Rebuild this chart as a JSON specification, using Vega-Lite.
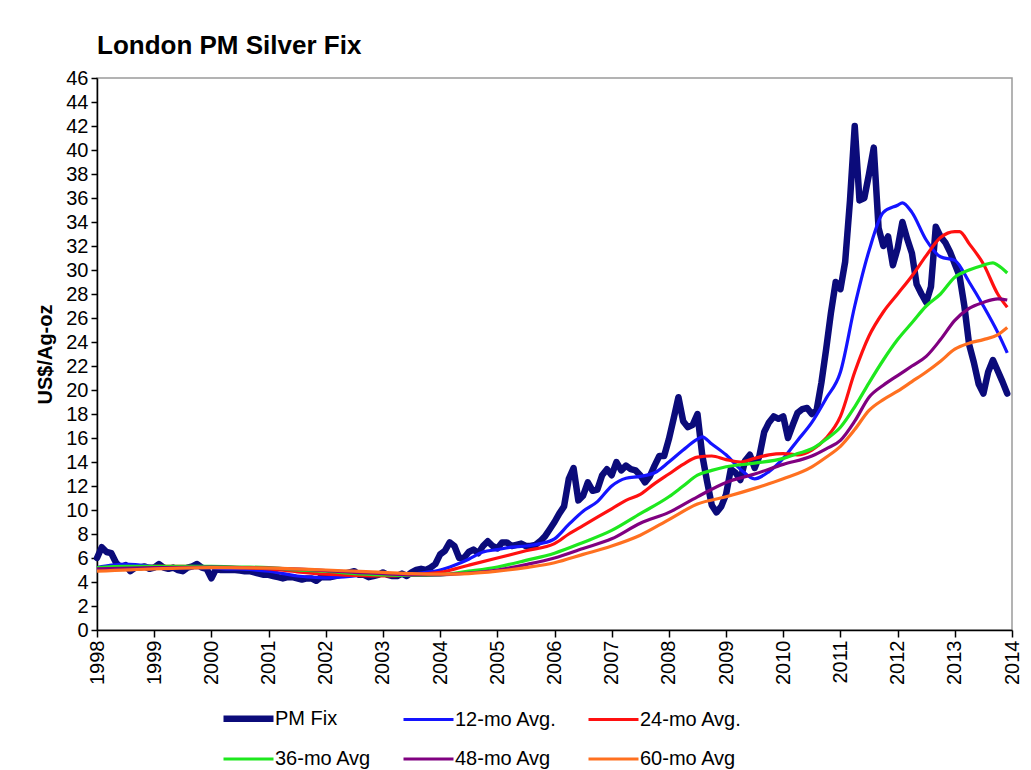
{
"$schema": "https://vega.github.io/schema/vega-lite/v6.json",
"width": 915, "height": 552,
"autosize": {"type": "none"},
"padding": {"left": 97, "top": 78, "right": 19, "bottom": 140},
"background": "white",
"title": {"text": "London PM Silver Fix", "anchor": "start", "frame": "group", "fontSize": 26, "fontWeight": "bold", "font": "Liberation Sans, Arial, sans-serif", "offset": 9, "color": "black"},
"config": {
  "view": {"stroke": "#9a9a9a", "strokeWidth": 1.5},
  "axis": {"labelFont": "Liberation Sans, Arial, sans-serif", "titleFont": "Liberation Sans, Arial, sans-serif", "domainColor": "black", "tickColor": "black", "grid": false, "labelColor": "black", "titleColor": "black", "domainWidth": 1.5, "tickWidth": 1.5},
  "legend": {"labelFont": "Liberation Sans, Arial, sans-serif", "labelFontSize": 20, "labelColor": "black", "symbolType": "stroke", "symbolSize": 2500, "columnPadding": 25, "rowPadding": -17, "labelOffset": -2, "padding": 0}
},
"data": {"values": [
{"t":1998,"pm":6.0,"a12":5.2,"a24":5.0,"a36":5.2,"a48":5.1,"a60":4.9},
{"t":1998.083,"pm":6.9},
{"t":1998.167,"pm":6.5},
{"t":1998.25,"pm":6.4,"a12":5.4},
{"t":1998.333,"pm":5.6},
{"t":1998.417,"pm":5.2},
{"t":1998.5,"pm":5.4,"a12":5.5,"a24":5.2,"a36":5.3},
{"t":1998.583,"pm":4.9},
{"t":1998.667,"pm":5.2},
{"t":1998.75,"pm":5.2,"a12":5.4},
{"t":1998.833,"pm":5.3},
{"t":1998.917,"pm":5.1},
{"t":1999,"pm":5.2,"a12":5.3,"a24":5.3,"a36":5.3,"a48":5.2,"a60":5.1},
{"t":1999.083,"pm":5.5},
{"t":1999.167,"pm":5.2},
{"t":1999.25,"pm":5.1,"a12":5.2},
{"t":1999.333,"pm":5.2},
{"t":1999.417,"pm":5.0},
{"t":1999.5,"pm":4.9,"a12":5.2,"a24":5.3,"a36":5.3},
{"t":1999.583,"pm":5.2},
{"t":1999.667,"pm":5.3},
{"t":1999.75,"pm":5.5,"a12":5.2},
{"t":1999.833,"pm":5.2},
{"t":1999.917,"pm":5.1},
{"t":2000,"pm":4.3,"a12":5.2,"a24":5.25,"a36":5.3,"a48":5.25,"a60":5.2},
{"t":2000.083,"pm":5.1},
{"t":2000.167,"pm":5.0},
{"t":2000.25,"pm":5.0,"a12":5.1},
{"t":2000.333,"pm":5.0},
{"t":2000.417,"pm":5.0},
{"t":2000.5,"pm":4.95,"a12":5.1,"a24":5.2,"a36":5.25},
{"t":2000.583,"pm":4.9},
{"t":2000.667,"pm":4.9},
{"t":2000.75,"pm":4.8,"a12":5.0},
{"t":2000.833,"pm":4.7},
{"t":2000.917,"pm":4.6},
{"t":2001,"pm":4.6,"a12":4.9,"a24":5.1,"a36":5.2,"a48":5.15,"a60":5.15},
{"t":2001.083,"pm":4.5},
{"t":2001.167,"pm":4.4},
{"t":2001.25,"pm":4.3,"a12":4.7},
{"t":2001.333,"pm":4.4},
{"t":2001.417,"pm":4.4},
{"t":2001.5,"pm":4.3,"a12":4.5,"a24":4.85,"a36":5.0},
{"t":2001.583,"pm":4.2},
{"t":2001.667,"pm":4.3},
{"t":2001.75,"pm":4.3,"a12":4.4},
{"t":2001.833,"pm":4.1},
{"t":2001.917,"pm":4.4},
{"t":2002,"pm":4.4,"a12":4.35,"a24":4.65,"a36":4.9,"a48":4.95,"a60":5.0},
{"t":2002.083,"pm":4.4},
{"t":2002.167,"pm":4.5},
{"t":2002.25,"pm":4.6,"a12":4.4},
{"t":2002.333,"pm":4.7},
{"t":2002.417,"pm":4.8},
{"t":2002.5,"pm":4.9,"a12":4.5,"a24":4.55,"a36":4.7,"a48":4.8,"a60":4.9},
{"t":2002.583,"pm":4.6},
{"t":2002.667,"pm":4.6},
{"t":2002.75,"pm":4.4,"a12":4.6},
{"t":2002.833,"pm":4.5},
{"t":2002.917,"pm":4.6},
{"t":2003,"pm":4.8,"a12":4.6,"a24":4.5,"a36":4.6,"a48":4.7,"a60":4.8},
{"t":2003.083,"pm":4.6},
{"t":2003.167,"pm":4.5},
{"t":2003.25,"pm":4.5,"a12":4.6},
{"t":2003.333,"pm":4.7},
{"t":2003.417,"pm":4.5},
{"t":2003.5,"pm":4.8,"a12":4.65,"a24":4.6,"a36":4.55,"a48":4.6,"a60":4.7},
{"t":2003.583,"pm":5.0},
{"t":2003.667,"pm":5.1},
{"t":2003.75,"pm":5.0,"a12":4.8},
{"t":2003.833,"pm":5.2},
{"t":2003.917,"pm":5.5},
{"t":2004,"pm":6.3,"a12":5.0,"a24":4.8,"a36":4.6,"a48":4.6,"a60":4.65},
{"t":2004.083,"pm":6.6},
{"t":2004.167,"pm":7.3},
{"t":2004.25,"pm":7.0,"a12":5.4},
{"t":2004.333,"pm":6.0},
{"t":2004.417,"pm":6.0},
{"t":2004.5,"pm":6.5,"a12":5.9,"a24":5.4,"a36":4.9,"a48":4.75,"a60":4.7},
{"t":2004.583,"pm":6.7},
{"t":2004.667,"pm":6.4},
{"t":2004.75,"pm":7.0,"a12":6.5},
{"t":2004.833,"pm":7.4},
{"t":2004.917,"pm":7.0},
{"t":2005,"pm":6.8,"a12":6.7,"a24":6.0,"a36":5.25,"a48":5.0,"a60":4.9},
{"t":2005.083,"pm":7.3},
{"t":2005.167,"pm":7.3},
{"t":2005.25,"pm":7.0,"a12":6.9},
{"t":2005.333,"pm":7.1},
{"t":2005.417,"pm":7.2},
{"t":2005.5,"pm":7.0,"a12":7.0,"a24":6.6,"a36":5.8,"a48":5.45,"a60":5.2},
{"t":2005.583,"pm":7.0},
{"t":2005.667,"pm":7.1},
{"t":2005.75,"pm":7.4,"a12":7.2},
{"t":2005.833,"pm":7.8},
{"t":2005.917,"pm":8.4},
{"t":2006,"pm":9.0,"a12":7.6,"a24":7.2,"a36":6.4,"a48":6.0,"a60":5.6},
{"t":2006.083,"pm":9.7},
{"t":2006.167,"pm":10.3},
{"t":2006.25,"pm":12.6,"a12":8.8,"a24":8.0},
{"t":2006.333,"pm":13.5},
{"t":2006.417,"pm":10.8},
{"t":2006.5,"pm":11.2,"a12":9.9,"a24":8.7,"a36":7.3,"a48":6.8,"a60":6.3},
{"t":2006.583,"pm":12.3},
{"t":2006.667,"pm":11.6},
{"t":2006.75,"pm":11.7,"a12":10.7,"a24":9.4},
{"t":2006.833,"pm":12.9},
{"t":2006.917,"pm":13.4},
{"t":2007,"pm":12.9,"a12":12.0,"a24":10.1,"a36":8.3,"a48":7.6,"a60":7.0},
{"t":2007.083,"pm":14.0},
{"t":2007.167,"pm":13.3},
{"t":2007.25,"pm":13.7,"a12":12.65,"a24":10.8},
{"t":2007.333,"pm":13.4},
{"t":2007.417,"pm":13.3},
{"t":2007.5,"pm":12.9,"a12":12.8,"a24":11.3,"a36":9.7,"a48":8.9,"a60":7.9},
{"t":2007.583,"pm":12.3},
{"t":2007.667,"pm":12.8},
{"t":2007.75,"pm":13.7,"a12":13.1,"a24":12.2},
{"t":2007.833,"pm":14.5},
{"t":2007.917,"pm":14.5},
{"t":2008,"pm":15.9,"a12":14.0,"a24":13.0,"a36":11.1,"a48":9.8,"a60":9.2},
{"t":2008.083,"pm":17.6},
{"t":2008.167,"pm":19.4},
{"t":2008.25,"pm":17.4,"a12":15.0,"a24":13.8,"a36":12.0},
{"t":2008.333,"pm":16.9},
{"t":2008.417,"pm":17.1},
{"t":2008.5,"pm":18.0,"a12":15.9,"a24":14.4,"a36":12.9,"a48":11.1,"a60":10.5},
{"t":2008.583,"pm":14.6,"a12":16.1},
{"t":2008.667,"pm":12.4},
{"t":2008.75,"pm":10.4,"a12":15.5,"a24":14.5,"a36":13.3},
{"t":2008.833,"pm":9.8},
{"t":2008.917,"pm":10.3},
{"t":2009,"pm":11.3,"a12":14.6,"a24":14.2,"a36":13.6,"a48":12.3,"a60":11.1},
{"t":2009.083,"pm":13.4},
{"t":2009.167,"pm":13.1},
{"t":2009.25,"pm":12.5,"a12":13.4,"a24":14.0},
{"t":2009.333,"pm":14.1},
{"t":2009.417,"pm":14.6},
{"t":2009.5,"pm":13.5,"a12":12.6,"a24":14.3,"a36":13.9,"a48":13.0,"a60":11.8},
{"t":2009.583,"pm":14.5},
{"t":2009.667,"pm":16.5},
{"t":2009.75,"pm":17.3,"a12":13.2,"a24":14.6},
{"t":2009.833,"pm":17.8},
{"t":2009.917,"pm":17.6},
{"t":2010,"pm":17.8,"a12":14.3,"a24":14.7,"a36":14.3,"a48":13.8,"a60":12.6},
{"t":2010.083,"pm":16.0},
{"t":2010.167,"pm":17.1},
{"t":2010.25,"pm":18.1,"a12":15.8,"a24":14.6,"a36":14.7},
{"t":2010.333,"pm":18.4},
{"t":2010.417,"pm":18.5},
{"t":2010.5,"pm":18.0,"a12":17.3,"a24":15.0,"a36":15.1,"a48":14.5,"a60":13.6},
{"t":2010.583,"pm":18.3},
{"t":2010.667,"pm":20.6},
{"t":2010.75,"pm":23.4,"a12":19.3,"a24":16.0,"a36":15.9,"a48":15.1,"a60":14.4},
{"t":2010.833,"pm":26.4},
{"t":2010.917,"pm":29.0},
{"t":2011,"pm":28.4,"a12":21.5,"a24":17.8,"a36":16.9,"a48":15.8,"a60":15.3},
{"t":2011.083,"pm":30.7},
{"t":2011.167,"pm":35.8},
{"t":2011.25,"pm":42.0,"a12":27.0,"a24":21.5,"a36":18.6,"a48":17.4,"a60":16.7},
{"t":2011.333,"pm":35.8},
{"t":2011.417,"pm":36.0},
{"t":2011.5,"pm":38.0,"a12":31.6,"a24":24.5,"a36":20.6,"a48":19.4,"a60":18.3},
{"t":2011.583,"pm":40.2},
{"t":2011.667,"pm":33.5},
{"t":2011.75,"pm":32.0,"a12":34.8,"a24":26.5,"a36":22.5,"a48":20.4,"a60":19.2},
{"t":2011.833,"pm":32.8},
{"t":2011.917,"pm":30.4},
{"t":2012,"pm":31.8,"a12":35.4,"a24":28.0,"a36":24.2,"a48":21.2,"a60":19.9},
{"t":2012.083,"pm":34.0,"a12":35.6},
{"t":2012.167,"pm":32.6},
{"t":2012.25,"pm":31.4,"a12":34.8,"a24":29.5,"a36":25.6,"a48":22.0,"a60":20.7},
{"t":2012.333,"pm":28.8},
{"t":2012.417,"pm":28.0},
{"t":2012.5,"pm":27.3,"a12":32.5,"a24":31.2,"a36":27.0,"a48":22.8,"a60":21.5},
{"t":2012.583,"pm":28.6},
{"t":2012.667,"pm":33.6},
{"t":2012.75,"pm":32.8,"a12":31.1,"a24":32.7,"a36":28.0,"a48":24.2,"a60":22.4},
{"t":2012.833,"pm":32.3},
{"t":2012.917,"pm":31.5},
{"t":2013,"pm":30.5,"a12":30.8,"a24":33.2,"a36":29.4,"a48":25.8,"a60":23.4},
{"t":2013.083,"pm":29.5,"a24":33.2},
{"t":2013.167,"pm":27.0},
{"t":2013.25,"pm":23.8,"a12":29.0,"a24":32.2,"a36":30.0,"a48":26.8,"a60":23.9},
{"t":2013.333,"pm":22.3},
{"t":2013.417,"pm":20.5},
{"t":2013.5,"pm":19.7,"a12":27.0,"a24":30.5,"a36":30.4,"a48":27.3,"a60":24.2},
{"t":2013.583,"pm":21.5},
{"t":2013.667,"pm":22.5,"a36":30.6},
{"t":2013.75,"pm":21.6,"a12":24.8,"a24":28.0,"a36":30.4,"a48":27.6,"a60":24.6},
{"t":2013.833,"pm":20.7},
{"t":2013.917,"pm":19.7,"a12":23.1,"a24":26.9,"a36":29.75,"a48":27.5,"a60":25.2}
]},
"transform": [
  {"fold": ["pm", "a12", "a24", "a36", "a48", "a60"], "as": ["s", "v"]},
  {"filter": "isValid(datum.v)"}
],
"encoding": {
  "x": {"field": "t", "type": "quantitative",
        "scale": {"domain": [1998, 2014], "nice": false, "zero": false},
        "axis": {"title": null, "values": [1998,1999,2000,2001,2002,2003,2004,2005,2006,2007,2008,2009,2010,2011,2012,2013,2014], "format": "d", "labelAngle": 270, "labelFontSize": 20, "tickSize": 7, "labelPadding": 3}},
  "y": {"field": "v", "type": "quantitative",
        "scale": {"domain": [0, 46], "nice": false},
        "axis": {"title": "US$/Ag-oz", "values": [0,2,4,6,8,10,12,14,16,18,20,22,24,26,28,30,32,34,36,38,40,42,44,46], "labelFontSize": 20, "tickSize": 6, "labelPadding": 3, "titleFontSize": 20, "titleFontWeight": "bold", "titlePadding": 10}},
  "color": {"field": "s", "type": "nominal",
            "scale": {"domain": ["pm", "a12", "a24", "a36", "a48", "a60"], "range": ["#0b0b7a", "#1414ff", "#ff1010", "#1ee81e", "#800080", "#ff7020"]},
            "legend": {"orient": "none", "legendX": 123, "legendY": 612, "direction": "horizontal", "columns": 3, "title": null,
                       "labelExpr": "{'pm':'PM Fix','a12':'12-mo Avg.','a24':'24-mo Avg.','a36':'36-mo Avg','a48':'48-mo Avg','a60':'60-mo Avg'}[datum.label]"}},
  "strokeWidth": {"field": "s", "type": "nominal",
            "scale": {"type": "ordinal", "domain": ["pm", "a12", "a24", "a36", "a48", "a60"], "range": [6.5, 3.2, 3.2, 3.2, 3.2, 3.2]},
            "legend": {"orient": "none", "legendX": 123, "legendY": 612, "direction": "horizontal", "columns": 3, "title": null,
                       "labelExpr": "{'pm':'PM Fix','a12':'12-mo Avg.','a24':'24-mo Avg.','a36':'36-mo Avg','a48':'48-mo Avg','a60':'60-mo Avg'}[datum.label]"}}
},
"layer": [
  {"transform": [{"filter": "datum.s === 'pm'"}], "mark": {"type": "line", "strokeJoin": "round", "strokeCap": "round"}},
  {"transform": [{"filter": "datum.s !== 'pm'"}], "mark": {"type": "line", "interpolate": "monotone"}}
]
}
